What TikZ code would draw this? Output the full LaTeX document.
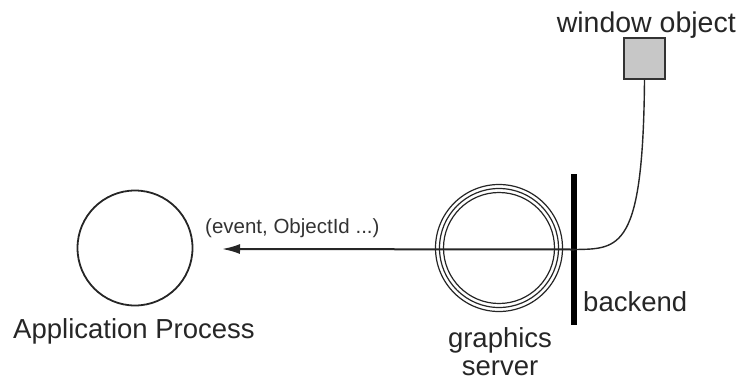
\documentclass[tikz,border=0pt]{standalone}
\usepackage{fontspec}
\setmainfont{Liberation Sans}
\usetikzlibrary{arrows.meta}
\begin{document}
\begin{tikzpicture}[x=1pt,y=-1pt,
  lbl/.style={inner sep=0pt,anchor=base,text=black!85,font=\fontsize{27.5}{30}\selectfont},
  small/.style={inner sep=0pt,anchor=base,text=black!80,font=\fontsize{20.5}{22}\selectfont},
  proc/.style={circle,draw=black!85,line width=1.8pt,inner sep=0pt},
  ring/.style={circle,draw=black!85,line width=1.2pt,inner sep=0pt,fill=none}]
\useasboundingbox (0,0) rectangle (738,383);
% application process
\node[proc,minimum size=115pt] (app) at (135,248) {};
\node[lbl] (applbl) at (134,338) {Application Process};
% graphics server
\node[ring,minimum size=127pt] (gs) at (499,248) {};
\node[ring,minimum size=119pt] (gs2) at (499,248) {};
\node[ring,minimum size=111pt] (gs3) at (499,248) {};
\node[lbl] (gslbl1) at (500,347) {graphics};
\node[lbl] (gslbl2) at (500,375) {server};
% backend bar
\node[fill=black,minimum width=6.5pt,minimum height=151pt,inner sep=0pt] (bar) at (574,249.5) {};
\node[lbl,anchor=base west] (backlbl) at (583,311) {backend};
% window object
\node[draw=black!80,fill=black!22,line width=1.8pt,minimum size=41pt,inner sep=0pt] (win) at (644.5,58.5) {};
\node[lbl,anchor=base east,font=\fontsize{28.5}{31}\selectfont] (winlbl) at (736,32) {window object};
% arrow
\coordinate (tip) at (222,249);
\draw[line width=2pt,black!85,-{Latex[length=18pt,width=10pt]}] (bar.center) -- (tip);
\node[small,anchor=base west] (evlbl) at (205,233) {(event, ObjectId ...)};
% connection from window object to backend
\draw[line width=1.4pt,black!85] (win.south) .. controls (643,250) and (620,249) .. (bar.center);
\end{tikzpicture}
\end{document}
